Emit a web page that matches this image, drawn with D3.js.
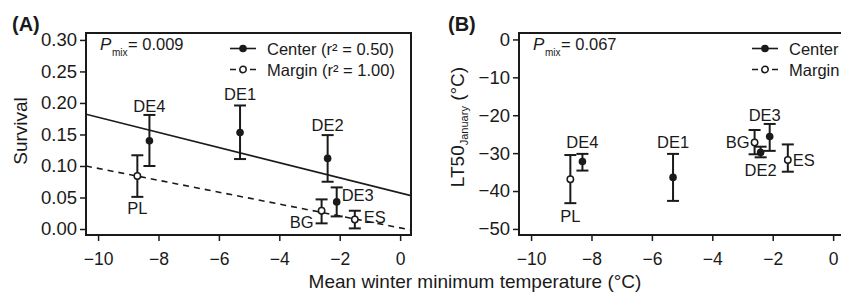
<!DOCTYPE html>
<html>
<head>
<meta charset="utf-8">
<script src="https://cdn.jsdelivr.net/npm/d3@7"></script>
<style>
  body { margin: 0; background: #fff; }
  svg { display: block; font-family: Arial, "Liberation Sans", sans-serif; }
  .axis text { font-size: 17.5px; fill: #1a1a1a; }
  .y.axis text { font-size: 18.5px; }
  .axis line { stroke: #1a1a1a; stroke-width: 1.5; }
  .axis path { display: none; }
</style>
</head>
<body>
<svg width="841" height="294"></svg>
<script>
// data
var sites = ['DE4', 'DE1', 'DE2', 'DE3', 'PL', 'BG', 'ES'];
var groups = ['Center', 'Center', 'Center', 'Center', 'Margin', 'Margin', 'Margin'];
var winterMin = [-8.3, -5.3, -2.4, -2.1, -8.7, -2.6, -1.5];

var survival = [0.140, 0.153, 0.112, 0.043, 0.084, 0.029, 0.015];
var survivalLo = [0.100, 0.111, 0.075, 0.020, 0.051, 0.009, 0.001];
var survivalHi = [0.181, 0.196, 0.149, 0.066, 0.117, 0.047, 0.029];

var lt50 = [-32.2, -36.4, -29.8, -25.6, -36.9, -27.2, -31.8];
var lt50Lo = [-34.6, -42.6, -31.1, -29.4, -43.2, -30.3, -34.9];
var lt50Hi = [-30.2, -30.2, -28.3, -22.3, -30.5, -23.9, -27.7];

// fitted lines in panel A
var fitGroups = ['Center', 'Margin'];
var fitSlope = [-0.0120, -0.00944];
var fitIntercept = [0.0573, 0.0018];

var xTicks = [-10, -8, -6, -4, -2, 0];
var survivalTicks = [0, 0.05, 0.10, 0.15, 0.20, 0.25, 0.30];
var lt50Ticks = [0, -10, -20, -30, -40, -50];
var legendA = ['Center (r\u00b2 = 0.50)', 'Margin (r\u00b2 = 1.00)'];
var legendB = ['Center', 'Margin'];
var pmix = ['0.009', '0.067'];

var svg = d3.select('svg');
var ink = '#1a1a1a';
var plotW = 325, plotH = 202, plotT = 33;

// where each site label sits: anchor, reference (pt / hi / lo), dx, dy
var labelPosA = {
  DE4: ['middle', 'hi', 0, -3], DE1: ['middle', 'hi', 0, -5], DE2: ['middle', 'hi', 0, -4],
  DE3: ['start', 'pt', 5, -1], PL: ['middle', 'lo', 0, 17], BG: ['end', 'pt', -8, 17],
  ES: ['start', 'pt', 9, 3]
};
var labelPosB = {
  DE4: ['middle', 'hi', 0, -6], DE1: ['middle', 'hi', 0, -6], DE2: ['middle', 'lo', 0, 19],
  DE3: ['middle', 'hi', -5, -3], PL: ['middle', 'lo', 0, 19], BG: ['end', 'pt', -5, 5],
  ES: ['start', 'pt', 5, 6]
};

var panels = [
  {left: 86, letter: '(A)', letterX: 12, yDomain: [-0.0095, 0.311], ticks: survivalTicks,
   fmt: d3.format('.2f'), y: survival, lo: survivalLo, hi: survivalHi,
   legend: legendA, legX: 144, pmix: pmix[0], labels: labelPosA, fit: true},
  {left: 519, letter: '(B)', letterX: 448, yDomain: [-51.6, 1.7], ticks: lt50Ticks,
   fmt: d3.format('d'), y: lt50, lo: lt50Lo, hi: lt50Hi,
   legend: legendB, legX: 233, pmix: pmix[1], labels: labelPosB, fit: false}
];

panels.forEach(function(p) {
  var xScale = d3.scaleLinear().domain([-10.4, 0.36]).range([0, plotW]);
  var yScale = d3.scaleLinear().domain(p.yDomain).range([plotH, 0]);

  var chartG = svg.append('g')
    .attr('transform', 'translate(' + [p.left, plotT] + ')');

  // axes
  chartG.append('g')
    .attr('class', 'x axis')
    .attr('transform', 'translate(0,' + plotH + ')')
    .call(d3.axisBottom(xScale).tickValues(xTicks).tickSize(6).tickPadding(12));

  chartG.append('g')
    .attr('class', 'y axis')
    .call(d3.axisLeft(yScale).tickValues(p.ticks).tickFormat(p.fmt).tickSize(6).tickPadding(3));

  // frame
  chartG.append('rect')
    .attr('width', plotW).attr('height', plotH)
    .attr('fill', 'none').attr('stroke', ink).attr('stroke-width', 2);

  var clipId = 'clip' + p.letter.charAt(1);
  chartG.append('clipPath').attr('id', clipId)
    .append('rect').attr('width', plotW).attr('height', plotH);

  // regression lines
  if (p.fit) {
    chartG.append('g').attr('clip-path', 'url(#' + clipId + ')')
      .selectAll('line')
      .data(fitGroups)
      .enter()
      .append('line')
      .attr('x1', xScale(xScale.domain()[0]))
      .attr('x2', xScale(xScale.domain()[1]))
      .attr('y1', function(d, i) { return yScale(fitIntercept[i] + fitSlope[i] * xScale.domain()[0]); })
      .attr('y2', function(d, i) { return yScale(fitIntercept[i] + fitSlope[i] * xScale.domain()[1]); })
      .attr('stroke', ink)
      .attr('stroke-width', 1.6)
      .attr('stroke-dasharray', function(d) { return d == 'Margin' ? '6,5' : null; });
  }

  // error bars
  var bars = chartG.append('g').selectAll('g')
    .data(sites)
    .enter()
    .append('g');

  bars.append('line')
    .attr('x1', function(d, i) { return xScale(winterMin[i]); })
    .attr('x2', function(d, i) { return xScale(winterMin[i]); })
    .attr('y1', function(d, i) { return yScale(p.lo[i]); })
    .attr('y2', function(d, i) { return yScale(p.hi[i]); })
    .attr('stroke', ink).attr('stroke-width', 2);

  ['lo', 'hi'].forEach(function(k) {
    bars.append('line')
      .attr('x1', function(d, i) { return xScale(winterMin[i]) - 6; })
      .attr('x2', function(d, i) { return xScale(winterMin[i]) + 6; })
      .attr('y1', function(d, i) { return yScale(p[k][i]); })
      .attr('y2', function(d, i) { return yScale(p[k][i]); })
      .attr('stroke', ink).attr('stroke-width', 2);
  });

  bars.append('circle')
    .attr('cx', function(d, i) { return xScale(winterMin[i]); })
    .attr('cy', function(d, i) { return yScale(p.y[i]); })
    .attr('r', function(d, i) { return groups[i] == 'Center' ? 3.8 : 3.2; })
    .attr('fill', function(d, i) { return groups[i] == 'Center' ? ink : '#fff'; })
    .attr('stroke', ink)
    .attr('stroke-width', function(d, i) { return groups[i] == 'Center' ? 0 : 1.5; });

  // site labels
  chartG.append('g').selectAll('text')
    .data(sites)
    .enter()
    .append('text')
    .attr('font-size', 16.5)
    .attr('fill', ink)
    .attr('text-anchor', function(d) { return p.labels[d][0]; })
    .attr('x', function(d, i) { return xScale(winterMin[i]) + p.labels[d][2]; })
    .attr('y', function(d, i) {
      var ref = p.labels[d][1];
      var v = ref == 'hi' ? p.hi[i] : (ref == 'lo' ? p.lo[i] : p.y[i]);
      return yScale(v) + p.labels[d][3];
    })
    .text(function(d) { return d; });

  // P_mix
  chartG.append('text').attr('x', 14).attr('y', 17)
    .attr('font-size', 17).attr('font-style', 'italic').attr('fill', ink).text('P');
  chartG.append('text').attr('x', 26).attr('y', 23)
    .attr('font-size', 10).attr('fill', ink).text('mix');
  chartG.append('text').attr('x', 42).attr('y', 17)
    .attr('font-size', 16.5).attr('fill', ink).text('= ' + p.pmix);

  // legend
  var leg = chartG.append('g').selectAll('g')
    .data(p.legend)
    .enter()
    .append('g')
    .attr('transform', function(d, i) { return 'translate(' + [p.legX, 15.5 + i * 21] + ')'; });

  leg.append('line')
    .attr('x1', 0).attr('x2', 26)
    .attr('stroke', ink).attr('stroke-width', 1.6)
    .attr('stroke-dasharray', function(d, i) { return i == 1 ? '6,14' : null; });
  leg.append('circle')
    .attr('cx', 13)
    .attr('r', function(d, i) { return i == 0 ? 3.8 : 3.2; })
    .attr('fill', function(d, i) { return i == 0 ? ink : '#fff'; })
    .attr('stroke', ink)
    .attr('stroke-width', function(d, i) { return i == 0 ? 0 : 1.5; });
  leg.append('text')
    .attr('x', 37).attr('y', 6)
    .attr('font-size', 16.5).attr('fill', ink)
    .text(function(d) { return d; });

  // panel letter
  svg.append('text')
    .attr('x', p.letterX).attr('y', 31)
    .attr('font-size', 20).attr('font-weight', 'bold').attr('fill', ink)
    .text(p.letter);
});

// axis titles
svg.append('text')
  .attr('transform', 'translate(27,131) rotate(-90)')
  .attr('text-anchor', 'middle')
  .attr('font-size', 19).attr('fill', ink)
  .text('Survival');

var lt = svg.append('text')
  .attr('transform', 'translate(464,127) rotate(-90)')
  .attr('text-anchor', 'middle')
  .attr('font-size', 19).attr('fill', ink);
lt.append('tspan').text('LT50');
lt.append('tspan').attr('font-size', 11).attr('dy', 4).text('January');
lt.append('tspan').attr('dy', -4).text(' (\u00b0C)');

svg.append('text')
  .attr('x', 475).attr('y', 288)
  .attr('text-anchor', 'middle')
  .attr('font-size', 19).attr('fill', ink)
  .text('Mean winter minimum temperature (\u00b0C)');
</script>
</body>
</html>
